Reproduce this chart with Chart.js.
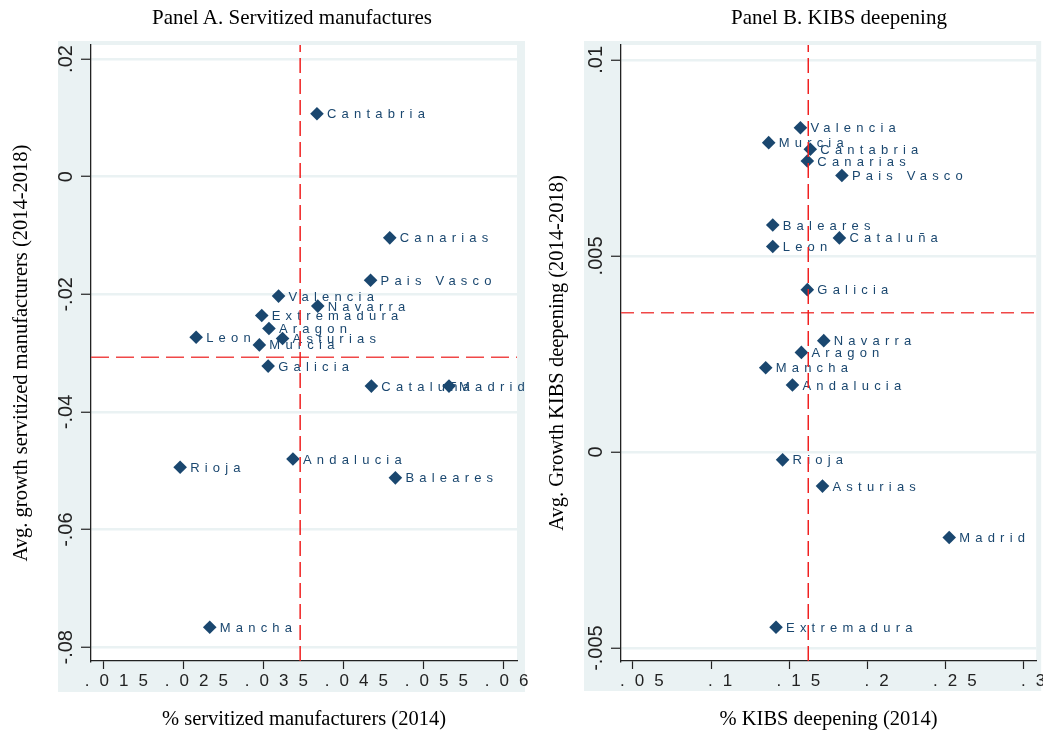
<!DOCTYPE html>
<html>
<head>
<meta charset="utf-8">
<title>Servitization and KIBS deepening</title>
<script src="https://cdn.jsdelivr.net/npm/chart.js@4.4.1/dist/chart.umd.min.js"></script>
<style>
  html, body { margin: 0; padding: 0; background: #fff; }
  body { width: 1043px; height: 735px; position: relative; overflow: hidden; }
  canvas { position: absolute; top: 0; }
  #chart-a { left: 0; }
  #chart-b { left: 530px; }
  .panel-title {
    position: absolute; top: 5px; line-height: 24px;
    font-family: 'Liberation Serif', serif; font-size: 21px; color: #000;
    white-space: nowrap; transform: translateX(-50%);
  }
</style>
</head>
<body>
<canvas id="chart-a" width="530" height="735"></canvas>
<canvas id="chart-b" width="513" height="735"></canvas>
<div class="panel-title" style="left:292px">Panel A. Servitized manufactures</div>
<div class="panel-title" style="left:839px">Panel B. KIBS deepening</div>
<script>
// --- Panel A. Servitized manufactures ---
const regionsA = ['Cantabria', 'Canarias', 'Pais Vasco', 'Valencia', 'Navarra', 'Extremadura', 'Aragon', 'Leon',
    'Asturias', 'Murcia', 'Galicia', 'Cataluña', 'Madrid', 'Andalucia', 'Baleares', 'Rioja', 'Mancha'];
const shareA = [.0417, .0508, .0484, .0369, .0418, .0348, .0357, .0266,
    .0374, .0345, .0356, .0485, .0582, .0387, .0515, .0246, .0283];
const growthA = [.0107, -.0104, -.0176, -.0203, -.0220, -.0236, -.0258, -.0273,
    -.0275, -.0286, -.0322, -.0356, -.0356, -.0480, -.0512, -.0494, -.0766];
const meanShareA = .0396;
const meanGrowthA = -.0307;
const xTicksA = [.015, .025, .035, .045, .055, .065];
const xTickLabelsA = ['.015', '.025', '.035', '.045', '.055', '.065'];
const yTicksA = [-.08, -.06, -.04, -.02, 0, .02];
const yTickLabelsA = ['-.08', '-.06', '-.04', '-.02', '0', '.02'];
const xRangeA = [.01346, .0667];
const yRangeA = [-.08233, .02238];

// --- Panel B. KIBS deepening ---
const regionsB = ['Valencia', 'Murcia', 'Cantabria', 'Canarias', 'Pais Vasco', 'Baleares', 'Cataluña', 'Leon',
    'Galicia', 'Navarra', 'Aragon', 'Mancha', 'Andalucia', 'Rioja', 'Asturias', 'Madrid', 'Extremadura'];
const shareB = [.1571, .1368, .1634, .1615, .1836, .1394, .1820, .1394,
    .1615, .1720, .1577, .1349, .1520, .1457, .1712, .2522, .1415];
const growthB = [.00827, .00789, .00772, .00742, .00705, .00579, .00546, .00524,
    .00414, .00284, .00254, .00215, .00171, -.00020, -.00087, -.00218, -.00447];
const meanShareB = .1621;
const meanGrowthB = .00355;
const xTicksB = [.05, .1, .15, .2, .25, .3];
const xTickLabelsB = ['.05', '.1', '.15', '.2', '.25', '.3'];
const yTicksB = [-.005, 0, .005, .01];
const yTickLabelsB = ['-.005', '0', '.005', '.01'];
const xRangeB = [.0424, .3078];
const yRangeB = [-.00533, .01038];

const NAVY = '#1a476f';
const BLUISH_GRAY = '#eaf2f3';
const AXIS = '#222';

// grey graph region behind the white plot region
const panelBackground = {
    id: 'panelBackground',
    beforeDraw(chart, args, opts) {
        const { ctx, chartArea: a } = chart;
        ctx.save();
        ctx.fillStyle = BLUISH_GRAY;
        ctx.fillRect(a.left - opts.left, a.top - opts.top,
            a.right - a.left + opts.left + opts.right, a.bottom - a.top + opts.top + opts.bottom);
        ctx.fillStyle = '#fff';
        ctx.fillRect(a.left, a.top, a.right - a.left, a.bottom - a.top);
        ctx.restore();
    }
};

// region names next to the markers, and wide spacing for the x tick labels
const pointLabels = {
    id: 'pointLabels',
    beforeDatasetsDraw(chart, args, opts) {
        const ctx = chart.ctx;
        const meta = chart.getDatasetMeta(0);
        ctx.save();
        ctx.font = '13px "Liberation Sans", Arial, sans-serif';
        ctx.fillStyle = NAVY;
        ctx.textAlign = 'left';
        ctx.textBaseline = 'middle';
        ctx.letterSpacing = '5.2px';
        meta.data.forEach((pt, i) => ctx.fillText(opts.names[i], pt.x + 10, pt.y + 1));
        ctx.restore();
    },
    afterDatasetsDraw(chart, args, opts) {
        chart.ctx.letterSpacing = opts.tickSpacing;
    },
    afterDraw(chart) {
        chart.ctx.letterSpacing = '0px';
    }
};

function makePanel(canvasId, p) {
    const ctx = document.getElementById(canvasId).getContext('2d');
    return new Chart(ctx, {
        type: 'scatter',
        data: {
            datasets: [{
                data: p.xs.map((x, i) => ({ x: x, y: p.ys[i] })),
                pointStyle: 'rectRot',
                pointRadius: 6.8,
                backgroundColor: NAVY,
                borderColor: NAVY,
                borderWidth: 0,
                order: 2
            }, {
                type: 'line',
                data: [{ x: p.meanX, y: p.yRange[0] }, { x: p.meanX, y: p.yRange[1] }],
                borderColor: '#f02020',
                borderWidth: 1.5,
                borderDash: [15, 6],
                pointRadius: 0,
                order: 1
            }, {
                type: 'line',
                data: [{ x: p.xRange[0], y: p.meanY }, { x: p.xRange[1], y: p.meanY }],
                borderColor: '#f04848',
                borderWidth: 1.6,
                borderDash: p.hDash,
                pointRadius: 0,
                order: 1
            }]
        },
        options: {
            responsive: false,
            animation: false,
            events: [],
            layout: { padding: { left: 0, top: 45, right: p.padRight, bottom: 0 } },
            plugins: {
                legend: { display: false },
                tooltip: { enabled: false },
                panelBackground: p.bg,
                pointLabels: { names: p.names, tickSpacing: '10px' }
            },
            scales: {
                x: {
                    type: 'linear',
                    min: p.xRange[0],
                    max: p.xRange[1],
                    afterBuildTicks: s => { s.ticks = p.xTicks.map(v => ({ value: v })); },
                    afterFit: s => { s.height = 74; s.paddingLeft = 0; s.paddingRight = 0; },
                    ticks: {
                        callback: (v, i) => p.xTickLabels[i],
                        font: { family: '"Liberation Sans", Arial, sans-serif', size: 17 },
                        color: AXIS,
                        padding: 2,
                        labelOffset: p.xLabelOffset,
                        maxRotation: 0,
                        autoSkip: false,
                        z: 1
                    },
                    grid: { drawOnChartArea: false, tickLength: 8, tickColor: AXIS, tickWidth: 1.2 },
                    border: { color: AXIS, width: 1.3 },
                    title: {
                        display: true,
                        text: p.xTitle,
                        font: { family: '"Liberation Serif", serif', size: 20.5 },
                        color: '#000',
                        padding: { top: 0, bottom: 3 }
                    }
                },
                y: {
                    type: 'linear',
                    min: p.yRange[0],
                    max: p.yRange[1],
                    afterBuildTicks: s => { s.ticks = p.yTicks.map(v => ({ value: v })); },
                    afterFit: s => { s.width = p.yWidth; s.paddingTop = 0; s.paddingBottom = 0; },
                    ticks: {
                        callback: (v, i) => p.yTickLabels[i],
                        font: { family: '"Liberation Sans", Arial, sans-serif', size: 20 },
                        color: AXIS,
                        minRotation: 90,
                        maxRotation: 90,
                        crossAlign: 'center',
                        padding: p.yTickPadding,
                        autoSkip: false
                    },
                    grid: { color: BLUISH_GRAY, lineWidth: 2.5, tickLength: 10, tickColor: AXIS, tickWidth: 1.2 },
                    border: { color: AXIS, width: 1.3 },
                    title: {
                        display: true,
                        text: p.yTitle,
                        font: { family: '"Liberation Serif", serif', size: 20.5 },
                        color: '#000',
                        padding: { top: p.yTitlePad, bottom: 0 }
                    }
                }
            }
        },
        plugins: [panelBackground, pointLabels]
    });
}

makePanel('chart-a', {
    names: regionsA, xs: shareA, ys: growthA, meanX: meanShareA, meanY: meanGrowthA,
    xTicks: xTicksA, xTickLabels: xTickLabelsA, yTicks: yTicksA, yTickLabels: yTickLabelsA,
    xRange: xRangeA, yRange: yRangeA,
    xTitle: '% servitized manufacturers (2014)',
    yTitle: 'Avg. growth servitized manufacturers (2014-2018)',
    padRight: 13, yWidth: 91, yTickPadding: -3, yTitlePad: 9, xLabelOffset: 18,
    hDash: [18, 7],
    bg: { left: 33, right: 8, top: 4, bottom: 31 }
});

makePanel('chart-b', {
    names: regionsB, xs: shareB, ys: growthB, meanX: meanShareB, meanY: meanGrowthB,
    xTicks: xTicksB, xTickLabels: xTickLabelsB, yTicks: yTicksB, yTickLabels: yTickLabelsB,
    xRange: xRangeB, yRange: yRangeB,
    xTitle: '% KIBS deepening (2014)',
    yTitle: 'Avg. Growth KIBS deepening (2014-2018)',
    padRight: 2, yWidth: 91, yTickPadding: -8, yTitlePad: 15, xLabelOffset: 14,
    hDash: [13, 7],
    bg: { left: 37, right: 5, top: 4, bottom: 30 }
});
</script>
</body>
</html>
